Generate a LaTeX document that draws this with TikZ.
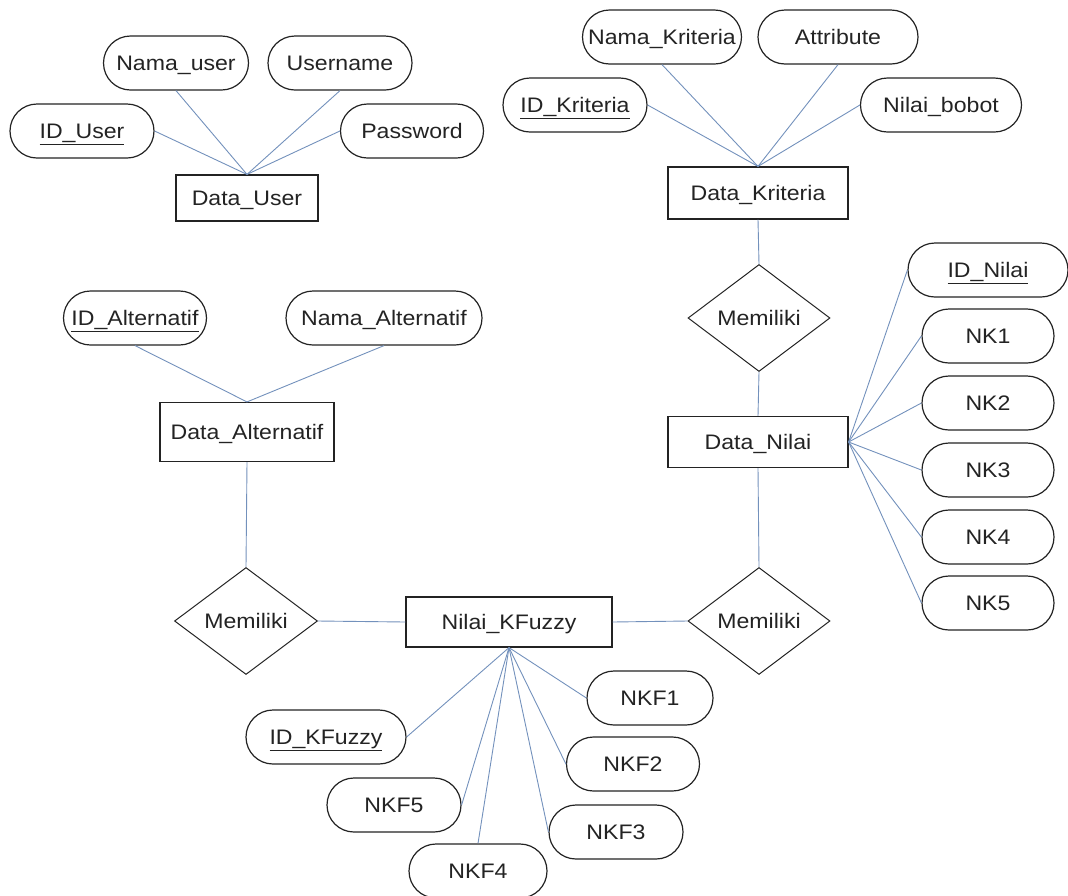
\documentclass[tikz,border=0pt]{standalone}
\usepackage{fontspec}
\setmainfont[FakeStretch=1.1]{Liberation Sans}
\usetikzlibrary{shapes.geometric,shapes.misc}
\definecolor{linkblue}{RGB}{115,145,188}
\definecolor{ink}{RGB}{35,35,35}
% key attributes are underlined
\newcommand{\keyattr}[1]{\underline{#1}}
\tikzset{
  lbl/.style={font=\fontsize{21}{24}\selectfont, text=ink, text height=15pt, text depth=0pt},
  attr/.style={lbl, draw=ink, line width=1.2pt, rounded rectangle, minimum height=54pt, inner sep=0pt},
  entity/.style={lbl, draw=ink, line width=1.2pt, rectangle, minimum height=50pt, inner sep=0pt},
  rel/.style={lbl, draw=ink, line width=1.0pt, diamond, aspect=1.33, minimum width=142pt, minimum height=107pt, inner sep=0pt},
  link/.style={draw=linkblue, line width=0.9pt}
}
\begin{document}
\begin{tikzpicture}[x=1pt,y=-1pt]
\useasboundingbox (0,0) rectangle (1068,895);

% ---- Data_User ----
\node[entity, minimum width=142pt, minimum height=46pt] (du) at (247,198) {Data\_User};
\node[attr, minimum width=144pt] (iduser) at (82,131) {\keyattr{ID\_User}};
\node[attr, minimum width=145pt] (namauser) at (176,63) {Nama\_user};
\node[attr, minimum width=144pt] (username) at (340,63) {Username};
\node[attr, minimum width=143pt] (password) at (412,131) {Password};

% ---- Data_Kriteria ----
\node[entity, minimum width=180pt, minimum height=52pt] (dk) at (758,193) {Data\_Kriteria};
\node[attr, minimum width=144pt] (idkrit) at (575,105) {\keyattr{ID\_Kriteria}};
\node[attr, minimum width=159pt] (namakrit) at (662,37) {Nama\_Kriteria};
\node[attr, minimum width=160pt] (attrib) at (838,37) {Attribute};
\node[attr, minimum width=161pt] (bobot) at (941,105) {Nilai\_bobot};

% ---- relationships ----
\node[rel] (rel1) at (759,318) {Memiliki};
\node[rel] (rel2) at (759,621) {Memiliki};
\node[rel, minimum width=143pt] (rel3) at (246,621) {Memiliki};

% ---- Data_Nilai ----
\node[entity, minimum width=180pt, minimum height=51pt] (dn) at (758,442) {Data\_Nilai};
\node[attr, minimum width=160pt] (idnilai) at (988,270) {\keyattr{ID\_Nilai}};
\node[attr, minimum width=132pt] (nk1) at (988,336) {NK1};
\node[attr, minimum width=132pt] (nk2) at (988,403) {NK2};
\node[attr, minimum width=132pt] (nk3) at (988,470) {NK3};
\node[attr, minimum width=132pt] (nk4) at (988,537) {NK4};
\node[attr, minimum width=132pt] (nk5) at (988,603) {NK5};

% ---- Data_Alternatif ----
\node[entity, minimum width=174pt, minimum height=59pt] (da) at (247,432) {Data\_Alternatif};
\node[attr, minimum width=143pt] (idalt) at (135,318) {\keyattr{ID\_Alternatif}};
\node[attr, minimum width=196pt] (namaalt) at (384,318) {Nama\_Alternatif};

% ---- Nilai_KFuzzy ----
\node[entity, minimum width=206pt, minimum height=50pt] (kf) at (509,622) {Nilai\_KFuzzy};
\node[attr, minimum width=160pt] (idkf) at (326,737) {\keyattr{ID\_KFuzzy}};
\node[attr, minimum width=126pt] (nkf1) at (650,698) {NKF1};
\node[attr, minimum width=133pt] (nkf2) at (633,764) {NKF2};
\node[attr, minimum width=134pt] (nkf3) at (616,832) {NKF3};
\node[attr, minimum width=138pt] (nkf4) at (478,871) {NKF4};
\node[attr, minimum width=134pt] (nkf5) at (394,805) {NKF5};

% ---- connectors ----
\draw[link] (du.north) -- (iduser.east);
\draw[link] (du.north) -- (namauser.south);
\draw[link] (du.north) -- (username.south);
\draw[link] (du.north) -- (password.west);

\draw[link] (dk.north) -- (idkrit.east);
\draw[link] (dk.north) -- (namakrit.south);
\draw[link] (dk.north) -- (attrib.south);
\draw[link] (dk.north) -- (bobot.west);

\draw[link] (dk.south) -- (rel1.north);
\draw[link] (rel1.south) -- (dn.north);
\draw[link] (dn.south) -- (rel2.north);

\foreach \a in {idnilai,nk1,nk2,nk3,nk4,nk5}
  \draw[link] (dn.east) -- (\a.west);

\draw[link] (rel2.west) -- (kf.east);
\draw[link] (kf.west) -- (rel3.east);
\draw[link] (rel3.north) -- (da.south);

\draw[link] (da.north) -- (idalt.south);
\draw[link] (da.north) -- (namaalt.south);

\draw[link] (kf.south) -- (idkf.east);
\draw[link] (kf.south) -- (nkf1.west);
\draw[link] (kf.south) -- (nkf2.west);
\draw[link] (kf.south) -- (nkf3.west);
\draw[link] (kf.south) -- (nkf5.east);
\draw[link] (kf.south) -- (nkf4.north);
\end{tikzpicture}
\end{document}
